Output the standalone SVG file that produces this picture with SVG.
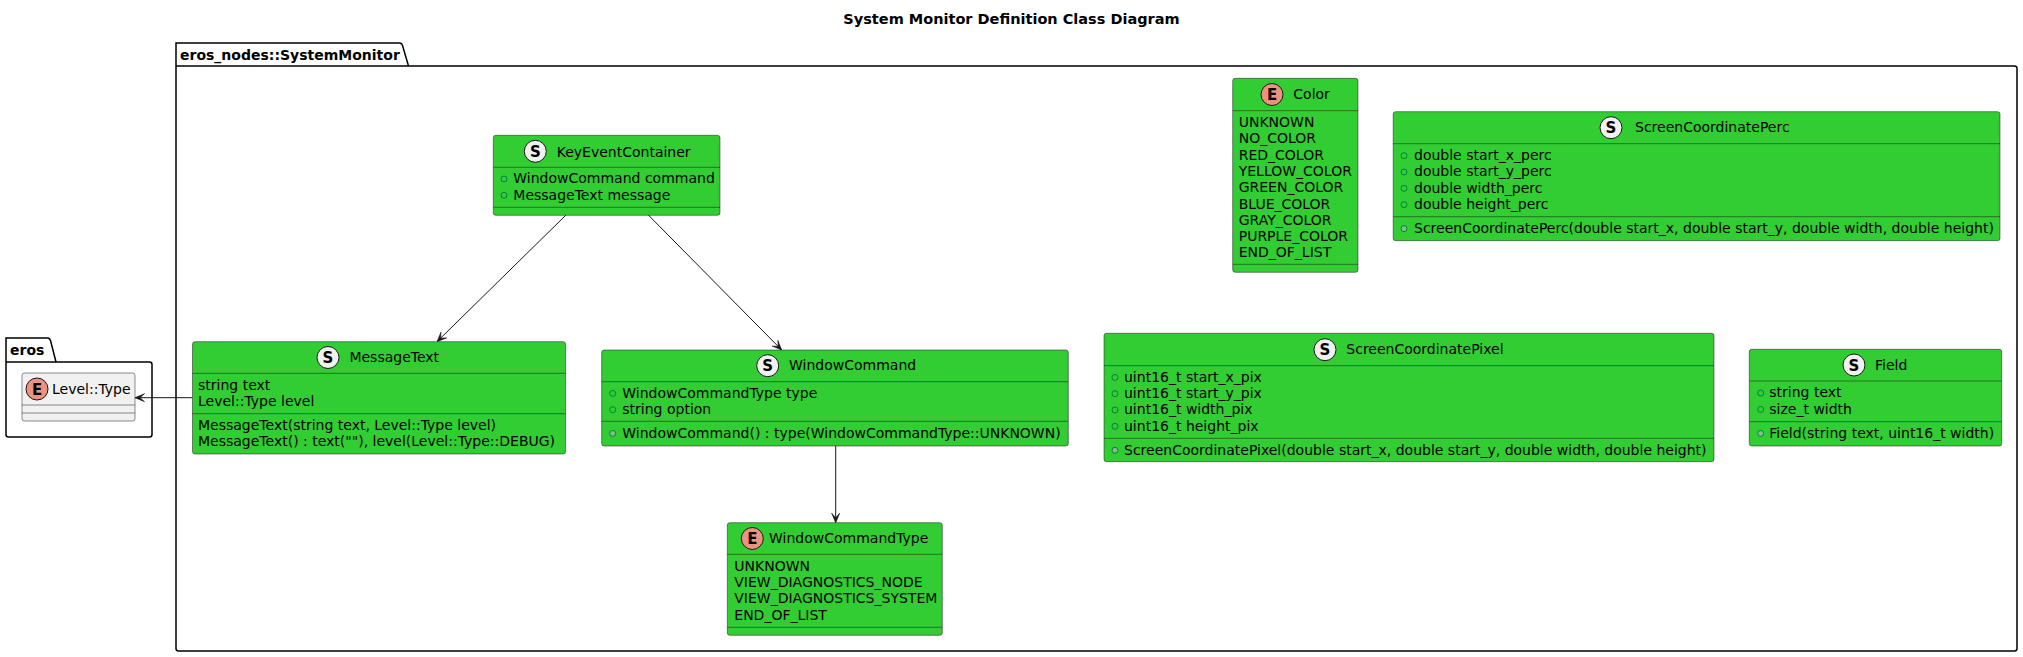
<svg xmlns="http://www.w3.org/2000/svg" width="2023" height="657" viewBox="0 0 2023 657">
<style>
.t{font-family:"DejaVu Sans",sans-serif;font-size:14px;fill:#000}
.b{font-weight:bold}
.cls{fill:#32CD32;stroke:#181818;stroke-width:0.5}
.gry{fill:#F1F1F1;stroke:#181818;stroke-width:0.5}
.sep{stroke:#181818;stroke-width:0.5}
.sc{fill:#F1F1F1;stroke:#181818;stroke-width:1}
.ec{fill:#EB937F;stroke:#181818;stroke-width:1}
.ct{font-family:"DejaVu Sans",sans-serif;font-size:15px;font-weight:bold;fill:#000;text-anchor:middle}
.vf{fill:none;stroke:#038048;stroke-width:1}
.vm{fill:#84BE84;stroke:#038048;stroke-width:1}
.pkg{fill:none;stroke:#000;stroke-width:1.5}
.con{fill:none;stroke:#181818;stroke-width:1}
</style>
<defs>
<marker id="ah" viewBox="0 0 10 10" refX="10" refY="5" markerWidth="10" markerHeight="10" orient="auto" markerUnits="userSpaceOnUse">
<path d="M10,5 L0.5,1 L5,5 L0.5,9 Z" fill="#181818" stroke="#181818" stroke-width="0.6" stroke-linejoin="round"/>
</marker>
</defs>
<rect width="2023" height="657" fill="#FFFFFF"/>
<text class="t b" x="1011.5" y="24" text-anchor="middle" style="font-size:14.5px">System Monitor Definition Class Diagram</text>

<g id="pkg-systemmonitor">
<path class="pkg" d="M176,43 L400,43 A3.75,3.75 0 0 1 402.5,45.5 L408.5,66 L2014.5,66 A2.5,2.5 0 0 1 2017,68.5 L2017,648.5 A2.5,2.5 0 0 1 2014.5,651 L178.5,651 A2.5,2.5 0 0 1 176,648.5 Z"/>
<line class="pkg" x1="176" y1="66" x2="408.5" y2="66"/>
<text class="t b" x="180" y="60">eros_nodes::SystemMonitor</text>
</g>

<g id="pkg-eros">
<path class="pkg" d="M6,338 L48,338 A3.75,3.75 0 0 1 50.5,340.5 L56,362 L149.5,362 A2.5,2.5 0 0 1 152,364.5 L152,434.5 A2.5,2.5 0 0 1 149.5,437 L8.5,437 A2.5,2.5 0 0 1 6,434.5 Z"/>
<line class="pkg" x1="6" y1="362" x2="56" y2="362"/>
<text class="t b" x="10" y="355">eros</text>
</g>

<g id="connectors">
<path class="con" d="M566,215 L437,341.7" marker-end="url(#ah)"/>
<path class="con" d="M648.3,215 L781.7,350" marker-end="url(#ah)"/>
<path class="con" d="M835.7,446 L835.7,522.7" marker-end="url(#ah)"/>
<path class="con" d="M192.5,397.7 L135,397.7" marker-end="url(#ah)"/>
</g>

<g id="LevelType">
<rect class="gry" x="22" y="373" width="113" height="48" rx="2.5"/>
<line class="sep" x1="22" y1="405" x2="135" y2="405"/>
<line class="sep" x1="22" y1="413" x2="135" y2="413"/>
<circle class="ec" cx="37" cy="389" r="11"/>
<text class="ct" x="37" y="394.5">E</text>
<text class="t" x="52" y="394">Level::Type</text>
</g>

<g id="KeyEventContainer">
<rect class="cls" x="493.3" y="135.3" width="226.7" height="80" rx="2.5"/>
<line class="sep" x1="493.3" y1="167.3" x2="720" y2="167.3"/>
<line class="sep" x1="493.3" y1="207.3" x2="720" y2="207.3"/>
<circle class="sc" cx="535.3" cy="151.3" r="11"/>
<text class="ct" x="535.3" y="156.8">S</text>
<text class="t" x="556.7" y="156.5">KeyEventContainer</text>
<circle class="vf" cx="504" cy="179" r="3"/>
<text class="t" x="513.3" y="183.3">WindowCommand command</text>
<circle class="vf" cx="504" cy="195.3" r="3"/>
<text class="t" x="513.3" y="199.6">MessageText message</text>
</g>

<g id="MessageText">
<rect class="cls" x="192.5" y="341.7" width="373.1" height="112.3" rx="2.5"/>
<line class="sep" x1="192.5" y1="373.3" x2="565.6" y2="373.3"/>
<line class="sep" x1="192.5" y1="413.7" x2="565.6" y2="413.7"/>
<circle class="sc" cx="328" cy="357.5" r="11"/>
<text class="ct" x="328" y="363">S</text>
<text class="t" x="349.4" y="362">MessageText</text>
<text class="t" x="198" y="389.7">string text</text>
<text class="t" x="198" y="406">Level::Type level</text>
<text class="t" x="198" y="430">MessageText(string text, Level::Type level)</text>
<text class="t" x="198" y="446.3">MessageText() : text(""), level(Level::Type::DEBUG)</text>
</g>

<g id="WindowCommand">
<rect class="cls" x="601.7" y="350" width="466.6" height="96" rx="2.5"/>
<line class="sep" x1="601.7" y1="381.7" x2="1068.3" y2="381.7"/>
<line class="sep" x1="601.7" y1="421.3" x2="1068.3" y2="421.3"/>
<circle class="sc" cx="767.7" cy="365.7" r="11"/>
<text class="ct" x="767.7" y="371.2">S</text>
<text class="t" x="789" y="370">WindowCommand</text>
<circle class="vf" cx="612.7" cy="393.4" r="3"/>
<text class="t" x="622.3" y="397.7">WindowCommandType type</text>
<circle class="vf" cx="612.7" cy="409.7" r="3"/>
<text class="t" x="622.3" y="414">string option</text>
<circle class="vm" cx="612.7" cy="433.4" r="3"/>
<text class="t" x="622.3" y="437.7">WindowCommand() : type(WindowCommandType::UNKNOWN)</text>
</g>

<g id="WindowCommandType">
<rect class="cls" x="727.3" y="522.7" width="215" height="112.6" rx="2.5"/>
<line class="sep" x1="727.3" y1="554.3" x2="942.3" y2="554.3"/>
<line class="sep" x1="727.3" y1="627.3" x2="942.3" y2="627.3"/>
<circle class="ec" cx="752.3" cy="538.5" r="11"/>
<text class="ct" x="752.3" y="544">E</text>
<text class="t" x="769" y="543">WindowCommandType</text>
<text class="t" x="734.3" y="570.7">UNKNOWN</text>
<text class="t" x="734.3" y="587">VIEW_DIAGNOSTICS_NODE</text>
<text class="t" x="734.3" y="603.3">VIEW_DIAGNOSTICS_SYSTEM</text>
<text class="t" x="734.3" y="619.6">END_OF_LIST</text>
</g>

<g id="Color">
<rect class="cls" x="1232.7" y="78.3" width="125.3" height="194" rx="2.5"/>
<line class="sep" x1="1232.7" y1="110.7" x2="1358" y2="110.7"/>
<line class="sep" x1="1232.7" y1="264.3" x2="1358" y2="264.3"/>
<circle class="ec" cx="1272" cy="94.5" r="11"/>
<text class="ct" x="1272" y="100">E</text>
<text class="t" x="1293.3" y="99">Color</text>
<text class="t" x="1238.7" y="127">UNKNOWN</text>
<text class="t" x="1238.7" y="143.3">NO_COLOR</text>
<text class="t" x="1238.7" y="159.6">RED_COLOR</text>
<text class="t" x="1238.7" y="175.9">YELLOW_COLOR</text>
<text class="t" x="1238.7" y="192.2">GREEN_COLOR</text>
<text class="t" x="1238.7" y="208.5">BLUE_COLOR</text>
<text class="t" x="1238.7" y="224.8">GRAY_COLOR</text>
<text class="t" x="1238.7" y="241.1">PURPLE_COLOR</text>
<text class="t" x="1238.7" y="257.4">END_OF_LIST</text>
</g>

<g id="ScreenCoordinatePerc">
<rect class="cls" x="1393.2" y="111.7" width="606.8" height="129" rx="2.5"/>
<line class="sep" x1="1393.2" y1="143.7" x2="2000" y2="143.7"/>
<line class="sep" x1="1393.2" y1="216.7" x2="2000" y2="216.7"/>
<circle class="sc" cx="1611" cy="127.7" r="11"/>
<text class="ct" x="1611" y="133.2">S</text>
<text class="t" x="1635" y="132">ScreenCoordinatePerc</text>
<circle class="vf" cx="1404" cy="155.7" r="3"/>
<text class="t" x="1414" y="160">double start_x_perc</text>
<circle class="vf" cx="1404" cy="172" r="3"/>
<text class="t" x="1414" y="176.3">double start_y_perc</text>
<circle class="vf" cx="1404" cy="188.3" r="3"/>
<text class="t" x="1414" y="192.6">double width_perc</text>
<circle class="vf" cx="1404" cy="204.6" r="3"/>
<text class="t" x="1414" y="208.9">double height_perc</text>
<circle class="vm" cx="1404" cy="228.7" r="3"/>
<text class="t" x="1414" y="233">ScreenCoordinatePerc(double start_x, double start_y, double width, double height)</text>
</g>

<g id="ScreenCoordinatePixel">
<rect class="cls" x="1104" y="333.3" width="610" height="128.4" rx="2.5"/>
<line class="sep" x1="1104" y1="365.7" x2="1714" y2="365.7"/>
<line class="sep" x1="1104" y1="438.3" x2="1714" y2="438.3"/>
<circle class="sc" cx="1325" cy="349.7" r="11"/>
<text class="ct" x="1325" y="355.2">S</text>
<text class="t" x="1346.3" y="354">ScreenCoordinatePixel</text>
<circle class="vf" cx="1115" cy="377.4" r="3"/>
<text class="t" x="1124" y="381.7">uint16_t start_x_pix</text>
<circle class="vf" cx="1115" cy="393.7" r="3"/>
<text class="t" x="1124" y="398">uint16_t start_y_pix</text>
<circle class="vf" cx="1115" cy="410" r="3"/>
<text class="t" x="1124" y="414.3">uint16_t width_pix</text>
<circle class="vf" cx="1115" cy="426.3" r="3"/>
<text class="t" x="1124" y="430.6">uint16_t height_pix</text>
<circle class="vm" cx="1115" cy="450.3" r="3"/>
<text class="t" x="1124" y="454.6">ScreenCoordinatePixel(double start_x, double start_y, double width, double height)</text>
</g>

<g id="Field">
<rect class="cls" x="1749.3" y="349.3" width="252.4" height="96.7" rx="2.5"/>
<line class="sep" x1="1749.3" y1="381" x2="2001.7" y2="381"/>
<line class="sep" x1="1749.3" y1="421.7" x2="2001.7" y2="421.7"/>
<circle class="sc" cx="1854" cy="365" r="11"/>
<text class="ct" x="1854" y="370.5">S</text>
<text class="t" x="1875" y="369.5">Field</text>
<circle class="vf" cx="1760.7" cy="393" r="3"/>
<text class="t" x="1769.3" y="397.3">string text</text>
<circle class="vf" cx="1760.7" cy="409.4" r="3"/>
<text class="t" x="1769.3" y="413.7">size_t width</text>
<circle class="vm" cx="1760.7" cy="433.4" r="3"/>
<text class="t" x="1769.3" y="437.7">Field(string text, uint16_t width)</text>
</g>
</svg>
